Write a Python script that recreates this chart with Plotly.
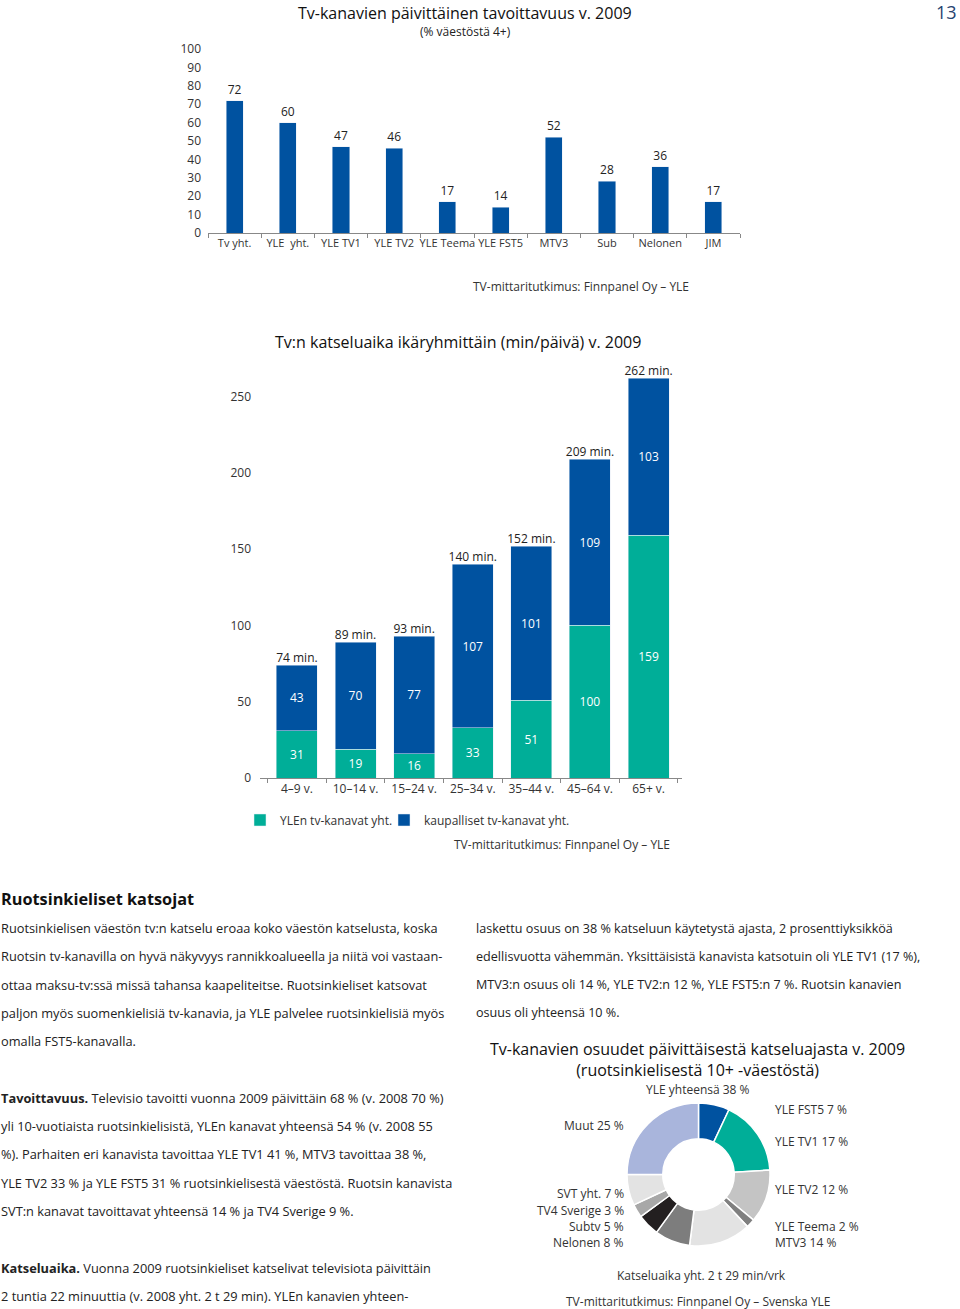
import plotly.graph_objects as go

W, H = 960, 1309

# ---------------- data ----------------
reach_categories = ["Tv yht.", "YLE  yht.", "YLE TV1", "YLE TV2", "YLE Teema",
                    "YLE FST5", "MTV3", "Sub", "Nelonen", "JIM"]
reach_values = [72, 60, 47, 46, 17, 14, 52, 28, 36, 17]

age_groups = ["4–9 v.", "10–14 v.", "15–24 v.", "25–34 v.", "35–44 v.", "45–64 v.", "65+ v."]
yle_minutes = [31, 19, 16, 33, 51, 100, 159]
commercial_minutes = [43, 70, 77, 107, 101, 109, 103]
total_minutes = [74, 89, 93, 140, 152, 209, 262]

share_labels = ["YLE FST5", "YLE TV1", "YLE TV2", "YLE Teema", "MTV3",
                "Nelonen", "Subtv", "TV4 Sverige", "SVT yht.", "Muut"]
share_values = [7, 17, 12, 2, 14, 8, 5, 3, 7, 25]
yle_total_share = 38

left_column_lines = [
    "Ruotsinkielisen väestön tv:n katselu eroaa koko väestön katselusta, koska",
    "Ruotsin tv-kanavilla on hyvä näkyvyys rannikkoalueella ja niitä voi vastaan-",
    "ottaa maksu-tv:ssä missä tahansa kaapeliteitse. Ruotsinkieliset katsovat",
    "paljon myös suomenkielisiä tv-kanavia, ja YLE palvelee ruotsinkielisiä myös",
    "omalla FST5-kanavalla.",
    "",
    "<b>Tavoittavuus.</b> Televisio tavoitti vuonna 2009 päivittäin 68 % (v. 2008 70 %)",
    "yli 10-vuotiaista ruotsinkielisistä, YLEn kanavat yhteensä 54 % (v. 2008 55",
    "%). Parhaiten eri kanavista tavoittaa YLE TV1 41 %, MTV3 tavoittaa 38 %,",
    "YLE TV2 33 % ja YLE FST5 31 % ruotsinkielisestä väestöstä. Ruotsin kanavista",
    "SVT:n kanavat tavoittavat yhteensä 14 % ja TV4 Sverige 9 %.",
    "",
    "<b>Katseluaika.</b> Vuonna 2009 ruotsinkieliset katselivat televisiota päivittäin",
    "2 tuntia 22 minuuttia (v. 2008 yht. 2 t 29 min). YLEn kanavien yhteen-",
]
right_column_lines = [
    "laskettu osuus on 38 % katseluun käytetystä ajasta, 2 prosenttiyksikköä",
    "edellisvuotta vähemmän. Yksittäisistä kanavista katsotuin oli YLE TV1 (17 %),",
    "MTV3:n osuus oli 14 %, YLE TV2:n 12 %, YLE FST5:n 7 %. Ruotsin kanavien",
    "osuus oli yhteensä 10 %.",
]

# ---------------- style ----------------
FONT = "Open Sans"
BLUE = "#0052A0"
TEAL = "#00AE98"
TXT = "#333333"
slice_colors = ["#0052A0", "#00AE98", "#C4C4C4", "#7F7F7F", "#E3E3E3",
                "#7D7D7D", "#231F20", "#A8A8A8", "#E3E3E3", "#A9B5DC"]


def py(p):
    return 1 - p / H


def px(p):
    return p / W


fig = go.Figure()

# ---- chart 1: daily reach ----
fig.add_trace(go.Bar(
    x=reach_categories, y=reach_values, marker_color=BLUE, width=0.32,
    text=reach_values, textposition="outside",
    textfont=dict(size=12, color="#222222", family=FONT),
    cliponaxis=False, showlegend=False, xaxis="x", yaxis="y",
))

# ---- chart 2: viewing time by age ----
fig.add_trace(go.Bar(
    x=age_groups, y=yle_minutes, name="YLEn tv-kanavat yht.", marker_color=TEAL,
    width=0.70, text=yle_minutes, textposition="inside", insidetextanchor="middle",
    textfont=dict(size=12, color="white", family=FONT), xaxis="x2", yaxis="y2",
    legend="legend",
))
fig.add_trace(go.Bar(
    x=age_groups, y=commercial_minutes, name="kaupalliset tv-kanavat yht.",
    marker_color=BLUE, width=0.70, text=commercial_minutes, textposition="inside",
    insidetextanchor="middle", textfont=dict(size=12, color="white", family=FONT),
    xaxis="x2", yaxis="y2", legend="legend2",
))
fig.add_trace(go.Scatter(
    x=age_groups, y=total_minutes, mode="text",
    text=[f"{v} min." for v in total_minutes], textposition="top center",
    textfont=dict(size=12, color="#222222", family=FONT),
    showlegend=False, cliponaxis=False, hoverinfo="skip", xaxis="x2", yaxis="y2",
))

# ---- chart 3: donut ----
fig.add_trace(go.Pie(
    labels=share_labels, values=share_values, hole=0.5, sort=False,
    direction="clockwise", rotation=0,
    marker=dict(colors=slice_colors, line=dict(color="white", width=1.5)),
    textinfo="none", showlegend=False,
    domain=dict(x=[px(627), px(770)], y=[py(1246), py(1103)]),
))

axis_font = dict(size=12, color=TXT, family=FONT)
legend_common = dict(orientation="h", yanchor="middle", xanchor="left",
                     font=dict(size=12, color=TXT, family=FONT), itemwidth=30,
                     bgcolor="rgba(0,0,0,0)")

fig.update_layout(
    width=W, height=H,
    margin=dict(l=0, r=0, t=0, b=0, pad=0, autoexpand=False),
    paper_bgcolor="white", plot_bgcolor="white",
    font=dict(family=FONT, color=TXT),
    barmode="stack", bargap=0.3,
    xaxis=dict(domain=[px(208), px(740)], showline=True, linecolor="#888888",
               linewidth=1, ticks="outside", tickson="boundaries", ticklen=4,
               tickcolor="#888888", tickfont=dict(size=11, color=TXT, family=FONT),
               tickangle=0, showgrid=False, automargin=False),
    yaxis=dict(domain=[py(233), py(49)], range=[0, 100], dtick=10,
               showgrid=False, zeroline=False, showline=False,
               tickfont=axis_font, ticklabelstandoff=6, automargin=False),
    xaxis2=dict(domain=[px(260), px(682)], range=[-0.63, 6.57], showline=True,
                linecolor="#888888", linewidth=1, ticks="outside", tickson="boundaries",
                ticklen=4, tickcolor="#888888", tickfont=axis_font, showgrid=False,
                tickangle=0, anchor="y2", automargin=False),
    yaxis2=dict(domain=[py(778), py(366)], range=[0, 270], tickvals=[0, 50, 100, 150, 200, 250],
                showgrid=False, zeroline=False, showline=False, anchor="x2",
                tickfont=axis_font, ticklabelstandoff=8, automargin=False),
    legend=dict(x=px(240), y=py(820), **legend_common),
    legend2=dict(x=px(384), y=py(820), **legend_common),
)

ann = []


def add_text(text, x, y, size=12, color=TXT, xanchor="center", bold=False):
    ann.append(dict(text=f"<b>{text}</b>" if bold else text, x=px(x), y=py(y),
                    xref="paper", yref="paper", xanchor=xanchor, yanchor="middle",
                    showarrow=False, font=dict(size=size, color=color, family=FONT)))


# page number
add_text("13", 946, 12, size=18, color="#27436F")
# chart 1 titles
add_text("Tv-kanavien päivittäinen tavoittavuus v. 2009", 465, 13, size=16, color="#111111")
add_text("(% väestöstä 4+)", 465, 31, size=12, color="#222222")
add_text("TV-mittaritutkimus: Finnpanel Oy – YLE", 581, 286, size=12)
# chart 2
add_text("Tv:n katseluaika ikäryhmittäin (min/päivä) v. 2009", 458, 342, size=16, color="#111111")
add_text("TV-mittaritutkimus: Finnpanel Oy – YLE", 562, 845, size=12)

# body text
add_text("Ruotsinkieliset katsojat", -1, 899, size=16.3, color="#111111", xanchor="left", bold=True)
line_gap = 28.3
for i, line in enumerate(left_column_lines):
    if line:
        add_text(line, -1, 928 + i * line_gap, size=12.8, color="#222222", xanchor="left")
for i, line in enumerate(right_column_lines):
    add_text(line, 474, 928 + i * line_gap, size=12.6, color="#222222", xanchor="left")

# donut titles and labels
add_text("Tv-kanavien osuudet päivittäisestä katseluajasta v. 2009<br>"
         "(ruotsinkielisestä 10+ -väestöstä)", 697, 1059.5, size=16, color="#111111")
add_text(f"YLE yhteensä {yle_total_share} %", 698, 1089, size=12)
right_label_pos = {"YLE FST5": 1109, "YLE TV1": 1141, "YLE TV2": 1189, "YLE Teema": 1226, "MTV3": 1242}
left_label_pos = {"Muut": 1125, "SVT yht.": 1193, "TV4 Sverige": 1210, "Subtv": 1226, "Nelonen": 1242}
for lab, val in zip(share_labels, share_values):
    if lab in right_label_pos:
        add_text(f"{lab} {val} %", 773, right_label_pos[lab], size=12, xanchor="left")
    else:
        add_text(f"{lab} {val} %", 626, left_label_pos[lab], size=12, xanchor="right")
add_text("Katseluaika yht. 2 t 29 min/vrk", 701, 1275, size=12)
add_text("TV-mittaritutkimus: Finnpanel Oy – Svenska YLE", 698, 1301, size=12)

fig.update_layout(annotations=ann)
fig.write_html(
    "out.html",
    config={"displayModeBar": False},
    post_script="document.body.style.margin='0';document.body.style.overflow='hidden';",
)
